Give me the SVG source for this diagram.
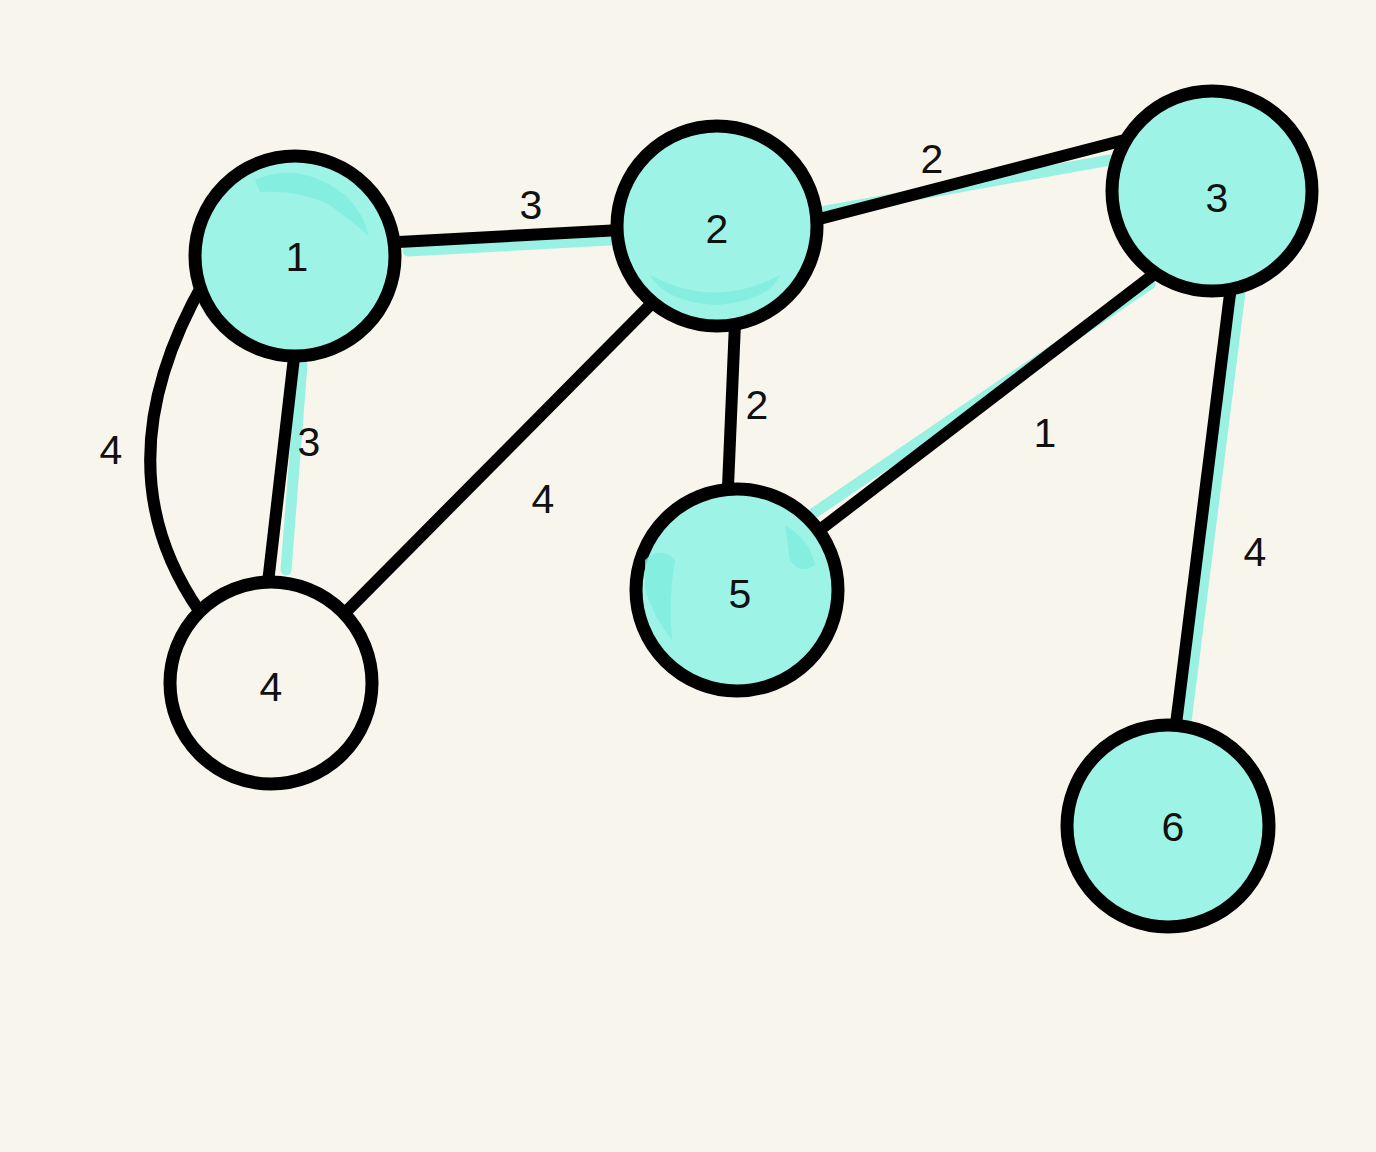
<svg xmlns="http://www.w3.org/2000/svg" width="1376" height="1152" viewBox="0 0 1376 1152">
<defs>
<style>
.bg{fill:#f8f6ec}
.edge{stroke:#000;stroke-width:12;fill:none;stroke-linecap:butt}
.hl{stroke:#8ef1e3;stroke-width:11;fill:none;stroke-linecap:round;opacity:0.9}
.node{stroke:#000;stroke-width:13;fill:#9cf3e6}
.node.plain{fill:#f8f6ec}
.blot{fill:#7eeee0;opacity:0.8}
text{font-family:"Liberation Sans",Arial,sans-serif;font-weight:400;font-size:41px;fill:#111;text-anchor:middle}
</style>
</defs>
<rect class="bg" x="0" y="0" width="1376" height="1152"/>
<g id="connectors">
  <line class="hl" x1="408" y1="251" x2="610" y2="240"/>
  <line class="hl" x1="826" y1="211" x2="1110" y2="160"/>
  <line class="hl" x1="302" y1="365" x2="286" y2="570"/>
  <line class="hl" x1="814" y1="513" x2="1150" y2="284"/>
  <line class="hl" x1="1240" y1="292" x2="1186" y2="722"/>
  <line class="edge" x1="380" y1="243" x2="640" y2="229"/>
  <line class="edge" x1="800" y1="224" x2="1140" y2="136"/>
  <path class="edge" d="M205,280 Q98,466 200,612"/>
  <line class="edge" x1="296" y1="340" x2="266" y2="600"/>
  <line class="edge" x1="670" y1="285" x2="330" y2="628"/>
  <line class="edge" x1="736" y1="300" x2="727" y2="510"/>
  <line class="edge" x1="1170" y1="262" x2="800" y2="545"/>
  <line class="edge" x1="1233" y1="270" x2="1174" y2="740"/>
  <text x="531" y="219">3</text>
  <text x="932" y="173">2</text>
  <text x="309" y="456">3</text>
  <text x="111" y="464">4</text>
  <text x="543" y="513">4</text>
  <text x="757" y="419">2</text>
  <text x="1045" y="447">1</text>
  <text x="1255" y="566">4</text>
</g>
<g id="node1">
  <circle class="node" cx="295" cy="256" r="100"/>
  <path class="blot" d="M255,180 Q300,160 345,195 Q365,215 368,235 Q350,220 330,205 Q300,190 260,192 Z"/>
  <text x="297" y="271">1</text>
</g>
<g id="node2">
  <circle class="node" cx="717" cy="226" r="100"/>
  <path class="blot" d="M650,275 Q715,310 780,275 Q770,300 717,305 Q665,302 650,275 Z"/>
  <text x="717" y="243">2</text>
</g>
<g id="node3">
  <circle class="node" cx="1212" cy="191" r="100"/>
  <text x="1217" y="212">3</text>
</g>
<g id="node4">
  <circle class="node plain" cx="271" cy="683" r="101"/>
  <text x="271" y="701">4</text>
</g>
<g id="node5">
  <circle class="node" cx="737" cy="590" r="101"/>
  <path class="blot" d="M645,560 Q660,545 675,560 Q668,600 672,640 Q655,620 645,590 Z"/>
  <path class="blot" d="M785,525 Q810,540 815,565 Q800,575 790,560 Z"/>
  <text x="740" y="608">5</text>
</g>
<g id="node6">
  <circle class="node" cx="1168" cy="826" r="101"/>
  <text x="1173" y="841">6</text>
</g>
</svg>
